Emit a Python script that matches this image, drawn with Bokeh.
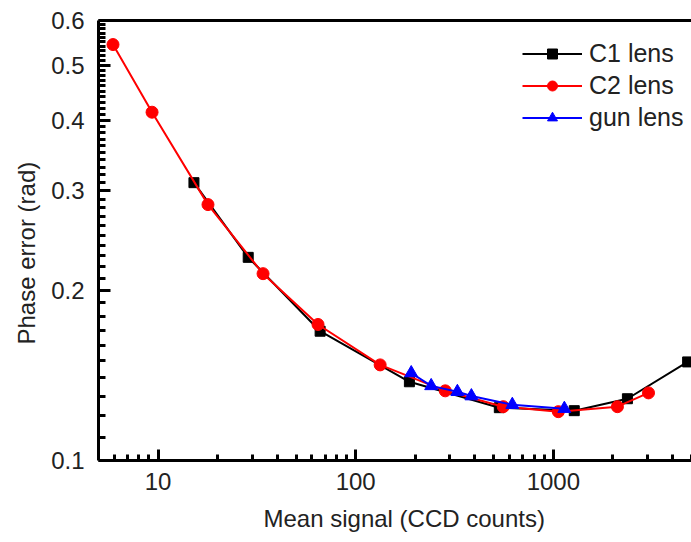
from bokeh.plotting import figure
from bokeh.models import FixedTicker, LogAxis, Legend, LegendItem, Range1d, Title
from bokeh.embed import file_html
from bokeh.resources import INLINE

# ---- data ----
c1_x = [15.2, 28.6, 66.1, 187, 533, 1276, 2370, 4780]
c1_y = [0.310, 0.2287, 0.1693, 0.1378, 0.1240, 0.1225, 0.1286, 0.1494]

c2_x = [5.92, 9.33, 17.9, 34.0, 64.5, 133, 284, 558, 1060, 2110, 3030]
c2_y = [0.544, 0.413, 0.2835, 0.214, 0.174, 0.1476, 0.1328, 0.1245, 0.1220, 0.1245, 0.1317]

gun_x = [191, 241, 327, 385, 620, 1137]
gun_y = [0.1428, 0.1355, 0.1323, 0.1300, 0.1255, 0.1235]

x_major = [10, 100, 1000]
x_minor = [6, 7, 8, 9, 20, 30, 40, 50, 60, 70, 80, 90,
           200, 300, 400, 500, 600, 700, 800, 900, 2000, 3000, 4000, 5000]
y_major = [0.1, 0.2, 0.3, 0.4, 0.5, 0.6]
y_minor = [round(0.1 + 0.01 * i, 2) for i in range(1, 50) if i % 10 != 0]

x_title = "Mean signal (CCD counts)"
y_title = "Phase error  (rad)"

FONT = "Liberation Sans"

p = figure(width=691, height=542, x_axis_type="log", y_axis_type="log",
           x_range=Range1d(5, 5000), y_range=Range1d(0.1, 0.6),
           output_backend="svg", toolbar_location=None,
           min_border_left=98, min_border_right=0, min_border_top=20, min_border_bottom=81)
p.outline_line_color = None
p.xgrid.visible = False
p.ygrid.visible = False
p.background_fill_color = "white"
p.border_fill_color = "white"

xa = p.below[0]
ya = p.left[0]
xa.ticker = FixedTicker(ticks=x_major, minor_ticks=x_minor)
xa.major_label_overrides = {10: "10", 100: "100", 1000: "1000"}
ya.ticker = FixedTicker(ticks=y_major, minor_ticks=y_minor)
ya.major_label_overrides = {0.1: "0.1", 0.2: "0.2", 0.3: "0.3", 0.4: "0.4", 0.5: "0.5", 0.6: "0.6"}

for ax in (xa, ya):
    ax.axis_line_width = 3
    ax.axis_line_color = "black"
    ax.major_tick_line_width = 3
    ax.minor_tick_line_width = 3
    ax.major_tick_out = 0
    ax.minor_tick_out = 0
    ax.major_label_text_font = FONT
    ax.major_label_text_font_size = "24px"
    ax.major_label_text_color = "#222222"

xa.major_tick_in = 11
xa.minor_tick_in = 6
ya.major_tick_in = 12
ya.minor_tick_in = 7
xa.major_label_standoff = 12
ya.major_label_standoff = 14

# axis titles (slightly off-centre, as in the reference)
xt = Title(text=x_title, align="left", offset=165, standoff=21,
           text_font=FONT, text_font_size="24px", text_font_style="normal",
           text_color="#222222")
p.add_layout(xt, "below")
yt = Title(text=y_title, align="left", offset=116, standoff=17,
           text_font=FONT, text_font_size="24px", text_font_style="normal",
           text_color="#222222")
p.add_layout(yt, "left")

# top frame line
top = LogAxis(ticker=FixedTicker(ticks=[]), major_label_text_font_size="0px",
              major_tick_in=0, major_tick_out=0, minor_tick_in=0, minor_tick_out=0,
              axis_line_width=3, axis_line_color="black", major_label_standoff=0)
p.add_layout(top, "above")

l1 = p.line(c1_x, c1_y, line_color="black", line_width=2)
s1 = p.scatter(c1_x, c1_y, marker="square", size=10, color="black")
l2 = p.line(c2_x, c2_y, line_color="#ff0000", line_width=2)
s2 = p.scatter(c2_x, c2_y, marker="circle", size=12, color="#ff0000")
l3 = p.line(gun_x, gun_y, line_color="#0000ff", line_width=2)
s3 = p.scatter(gun_x, gun_y, marker="triangle", size=13, color="#0000ff")

legend = Legend(items=[
    LegendItem(label="C1 lens", renderers=[l1, s1]),
    LegendItem(label="C2 lens", renderers=[l2, s2]),
    LegendItem(label="gun lens", renderers=[l3, s3]),
], location=(424, 328))
legend.label_text_font = FONT
legend.label_text_font_size = "25px"
legend.label_text_color = "#222222"
legend.glyph_width = 60
legend.glyph_height = 25
legend.label_height = 25
legend.label_standoff = 7
legend.spacing = 3
legend.padding = 0
legend.margin = 0
legend.border_line_color = None
legend.background_fill_alpha = 0
p.add_layout(legend)

open("out.html", "w").write(file_html(p, INLINE))
